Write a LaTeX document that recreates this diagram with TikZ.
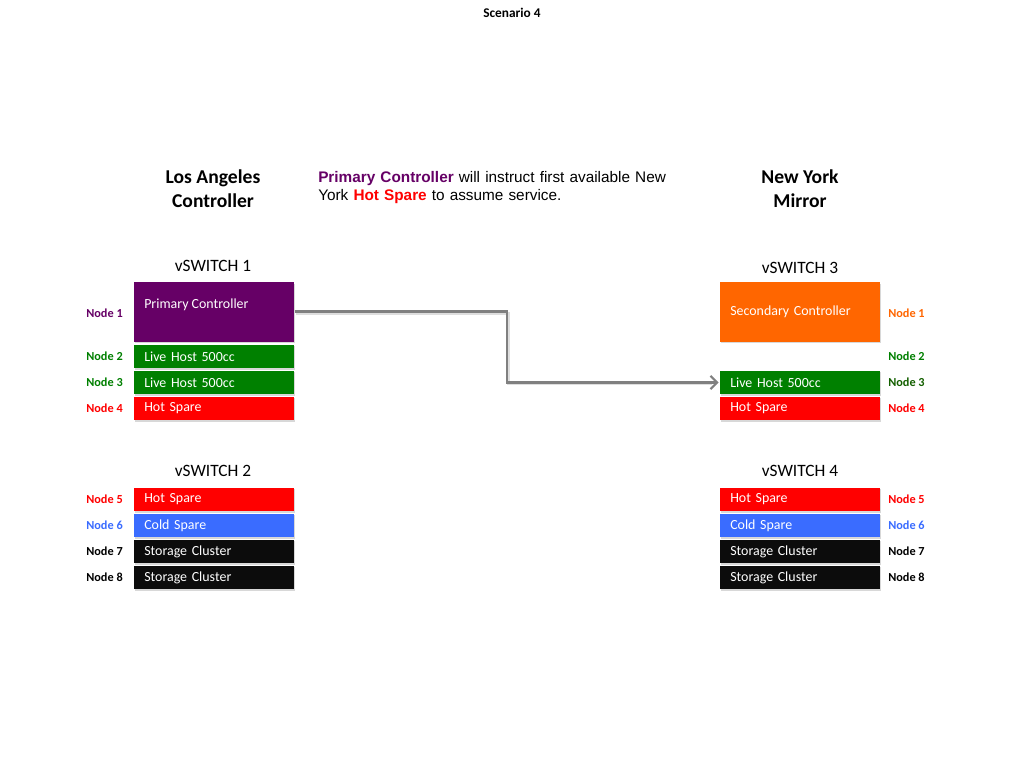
\documentclass[tikz,border=0pt]{standalone}
\usepackage{fontspec}
\setmainfont{Carlito}
\newfontfamily\arialf{Liberation Sans}
\usetikzlibrary{shadows,arrows.meta}
\definecolor{cpurple}{RGB}{102,0,102}
\definecolor{cgreen}{RGB}{0,128,0}
\definecolor{cdkgreen}{RGB}{20,96,0}
\definecolor{cred}{RGB}{255,0,0}
\definecolor{cblue}{RGB}{58,108,255}
\definecolor{corange}{RGB}{255,102,0}
\definecolor{cblack}{RGB}{12,12,12}
\definecolor{carrow}{RGB}{128,128,128}
\begin{document}
\begin{tikzpicture}[x=0.75pt,y=-0.75pt,
  hostbox/.style={rectangle, anchor=north west, fill=#1, text=white,
    minimum width=120pt, minimum height=17.6pt, inner xsep=7.5pt, inner ysep=0pt,
    text width=105pt, align=left, font=\fontsize{10.45}{12}\selectfont,
    drop shadow={shadow xshift=0.8pt, shadow yshift=-1pt, opacity=0.25, fill=black!60}},
  nlbl/.style={font=\bfseries\fontsize{9.2}{11}\selectfont, text=#1, inner sep=0pt},
  header/.style={font=\bfseries\fontsize{14.7}{18}\selectfont, align=center, inner sep=0pt},
  swlbl/.style={font=\fontsize{13}{15}\selectfont, inner sep=0pt},
  link/.style={draw=carrow, line width=2.2pt, -{Straight Barb[length=5pt,width=10pt,line width=1.6pt]}}
]
\useasboundingbox (0,0) rectangle (1024,768);
\fill[white] (0,0) rectangle (1024,768);

% title
\node[font=\bfseries\fontsize{10}{12}\selectfont, inner sep=0pt] (title) at (512,13) {Scenario 4};

% headers
\node[header] (la) at (213,189) {Los Angeles\\Controller};
\node[header] (ny) at (800,189) {New York\\Mirror};
\node[anchor=north west, inner sep=0pt, text width=280pt, align=left,
  font=\arialf\fontsize{11.5}{13.8}\selectfont] (desc) at (318,171)
  {\textcolor{cpurple}{\bfseries Primary Controller} will instruct first available New\\
   York \textcolor{cred}{\bfseries Hot Spare} to assume service.};

% switch labels
\node[swlbl] (sw1) at (213,266) {vSWITCH 1};
\node[swlbl] (sw2) at (213,471) {vSWITCH 2};
\node[swlbl] (sw3) at (800,268) {vSWITCH 3};
\node[swlbl] (sw4) at (800,471) {vSWITCH 4};

% left column, vSWITCH 1
\node[hostbox=cpurple, minimum height=44.5pt] (pc) at (134,282) {};
\node[anchor=north west, inner sep=0pt, text=white, font=\fontsize{10.45}{12}\selectfont] (pct) at (144,298.5) {Primary Controller};
\node[hostbox=cgreen] (lh2) at (134,344.5) {Live Host 500cc};
\node[hostbox=cgreen] (lh3) at (134,370.5) {Live Host 500cc};
\node[hostbox=cred] (hs4) at (134,396.5) {Hot Spare};

% left column, vSWITCH 2
\node[hostbox=cred] (hs5) at (134,487.5) {Hot Spare};
\node[hostbox=cblue] (cs6) at (134,513.5) {Cold Spare};
\node[hostbox=cblack] (sc7) at (134,539.5) {Storage Cluster};
\node[hostbox=cblack] (sc8) at (134,565.5) {Storage Cluster};

% right column, vSWITCH 3
\node[hostbox=corange, minimum height=44.5pt] (sec) at (720,282) {Secondary Controller};
\node[hostbox=cgreen] (rlh3) at (720,370.5) {Live Host 500cc};
\node[hostbox=cred] (rhs4) at (720,396.5) {Hot Spare};

% right column, vSWITCH 4
\node[hostbox=cred] (rhs5) at (720,487.5) {Hot Spare};
\node[hostbox=cblue] (rcs6) at (720,513.5) {Cold Spare};
\node[hostbox=cblack] (rsc7) at (720,539.5) {Storage Cluster};
\node[hostbox=cblack] (rsc8) at (720,565.5) {Storage Cluster};

% left node labels
\node[nlbl=cpurple, anchor=east] (l1) at (123,313) {Node 1};
\node[nlbl=cgreen, anchor=east] (l2) at (123,356) {Node 2};
\node[nlbl=cgreen, anchor=east] (l3) at (123,382) {Node 3};
\node[nlbl=cred, anchor=east] (l4) at (123,408) {Node 4};
\node[nlbl=cred, anchor=east] (l5) at (123,499) {Node 5};
\node[nlbl=cblue, anchor=east] (l6) at (123,525) {Node 6};
\node[nlbl=black, anchor=east] (l7) at (123,551) {Node 7};
\node[nlbl=black, anchor=east] (l8) at (123,577) {Node 8};

% right node labels
\node[nlbl=corange, anchor=west] (r1) at (888,313) {Node 1};
\node[nlbl=cgreen, anchor=west] (r2) at (888,356) {Node 2};
\node[nlbl=cdkgreen, anchor=west] (r3) at (888,382) {Node 3};
\node[nlbl=cred, anchor=west] (r4) at (888,408) {Node 4};
\node[nlbl=cred, anchor=west] (r5) at (888,499) {Node 5};
\node[nlbl=cblue, anchor=west] (r6) at (888,525) {Node 6};
\node[nlbl=black, anchor=west] (r7) at (888,551) {Node 7};
\node[nlbl=black, anchor=west] (r8) at (888,577) {Node 8};

% connector
\coordinate (bend) at (507,312);
\draw[draw=black!25, line width=2.2pt, opacity=0.5] ([xshift=1pt,yshift=-1pt]pc.east) -| ([xshift=1pt,yshift=-1pt]bend) |- ([xshift=-6pt,yshift=-1pt]rlh3.west);
\draw[link] (pc.east) -| (bend) |- ([xshift=-1pt]rlh3.west);
\end{tikzpicture}
\end{document}
